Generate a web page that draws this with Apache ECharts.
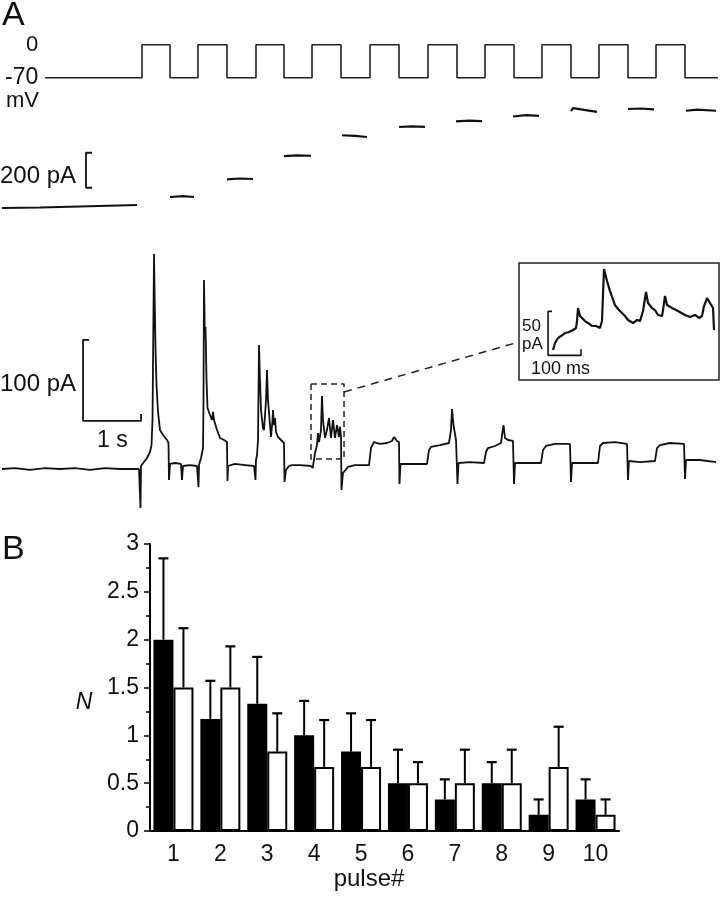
<!DOCTYPE html>
<html>
<head>
<meta charset="utf-8">
<script src="https://cdn.jsdelivr.net/npm/echarts@6/dist/echarts.min.js"></script>
<style>
html,body{margin:0;padding:0;background:#fff;}
#chart{width:721px;height:899px;}
</style>
</head>
<body>
<div id="chart"></div>
<script>
// ---------- Panel B data ----------
const pulses = ['1','2','3','4','5','6','7','8','9','10'];
const meanBlack = [2.0, 1.17, 1.33, 1.0, 0.83, 0.5, 0.33, 0.5, 0.17, 0.33];
const semBlack  = [0.85, 0.40, 0.49, 0.36, 0.40, 0.35, 0.21, 0.22, 0.16, 0.21];
const meanWhite = [1.5, 1.5, 0.83, 0.67, 0.67, 0.5, 0.5, 0.5, 0.67, 0.17];
const semWhite  = [0.62, 0.43, 0.40, 0.49, 0.49, 0.22, 0.35, 0.35, 0.42, 0.16];

// ---------- Panel A: voltage command (s, mV) ----------
const vStart = 0.741, vEnd = 12.345, vHold = -70, vStep = 0;
const pulseOn  = [2.414, 3.379, 4.379, 5.345, 6.345, 7.345, 8.328, 9.310, 10.293, 11.276];
const pulseOff = [2.897, 3.879, 4.862, 5.845, 6.845, 7.845, 8.828, 9.810, 10.793, 11.776];

// ---------- Panel A: holding current between pulses (s, pA) ----------
const holdT = [0, 0.655, 1.345, 2.328, null, 2.897, 3.121, 3.310, null, 3.879, 4.103, 4.328, null,
  4.862, 5.086, 5.328, null, 5.862, 6.086, 6.293, null, 6.845, 7.069, 7.293, null, 7.828, 8.052, 8.276, null,
  8.810, 9.034, 9.259, null, 9.810, 9.845, 10.259, null, 10.793, 11.017, 11.241, null, 11.793, 11.983, 12.310];
const holdI = [-5.7, -2.9, 2.9, 11.4, null, 57.0, 62.0, 57.0, null, 158.0, 163.0, 160.0, null,
  291.0, 295.0, 293.0, null, 410.0, 406.0, 400.0, null, 457.0, 461.0, 458.0, null, 489.0, 494.0, 491.0, null,
  517.0, 525.0, 521.0, null, 548.0, 565.0, 544.0, null, 560.0, 563.0, 558.0, null, 550.0, 556.0, 550.0];

// ---------- Panel A: evoked current trace (s, pA) ----------
const evT = [0.000,0.224,0.483,0.741,1.000,1.259,1.517,1.776,2.034,2.362,
  2.379,2.388,2.397,2.448,2.500,2.552,2.578,2.595,2.609,2.621,2.633,2.647,2.664,2.690,2.724,2.776,2.845,2.871,2.879,2.897,2.983,3.086,3.103,3.121,3.241,3.362,
  3.379,3.388,3.397,3.431,3.466,3.474,3.483,3.495,3.509,3.526,3.543,3.586,3.621,3.638,3.655,3.707,3.759,3.828,3.879,3.888,3.897,4.017,4.190,4.345,
  4.362,4.371,4.379,4.397,4.414,4.431,4.448,4.466,4.500,4.517,4.552,4.569,4.586,4.621,4.638,4.664,4.672,4.690,4.707,4.724,4.759,4.810,4.862,4.871,4.897,4.948,5.000,5.138,5.328,
  5.357,5.397,5.431,5.448,5.466,5.500,5.517,5.534,5.569,5.603,5.638,5.672,5.707,5.741,5.776,5.810,5.828,5.845,5.853,5.879,5.966,6.086,6.328,
  6.345,6.362,6.414,6.517,6.638,6.724,6.759,6.810,6.845,6.853,6.871,7.034,7.328,
  7.345,7.362,7.397,7.552,7.707,7.741,7.759,7.784,7.828,7.845,7.853,7.871,8.069,8.310,
  8.328,8.345,8.379,8.500,8.603,8.629,8.647,8.672,8.724,8.810,8.828,8.845,9.103,9.293,
  9.310,9.328,9.379,9.534,9.793,9.810,9.828,10.052,10.276,
  10.293,10.310,10.362,10.569,10.776,10.793,10.810,11.000,11.259,
  11.276,11.293,11.345,11.517,11.759,11.776,11.793,12.034,12.310];
const evI = [0.0,1.2,-1.2,1.2,0.0,1.2,-1.2,1.2,0.0,0.0,
  0.0,-48.1,3.7,8.6,13.6,21.0,29.6,60.5,171.6,265.4,207.4,146.9,103.7,70.4,48.1,42.0,35.8,32.1,-13.6,6.2,7.4,6.2,-13.6,3.7,4.9,3.7,
  3.7,-22.2,4.9,13.6,25.9,84.0,233.3,172.8,175.3,109.9,75.3,66.7,60.5,70.4,60.5,48.1,38.3,35.8,33.3,-14.8,3.7,6.2,4.9,3.7,
  2.5,-13.6,11.1,17.3,35.8,153.1,109.9,72.8,50.6,48.1,85.2,122.2,85.2,54.3,39.5,60.5,72.8,54.3,63.0,45.7,39.5,35.8,32.1,-16.0,-1.2,3.7,4.9,4.9,3.7,
  1.2,19.8,29.6,44.4,33.3,48.1,90.1,60.5,38.3,48.1,63.0,38.3,60.5,38.3,54.3,39.5,51.9,39.5,-25.9,-4.9,2.5,4.9,4.9,
  4.9,25.9,33.3,30.9,32.1,34.6,39.5,34.6,33.3,-18.5,6.2,6.2,6.2,
  6.2,23.5,27.2,29.6,32.1,48.1,74.1,54.3,35.8,34.6,-18.5,7.4,8.6,7.4,
  7.4,21.0,25.9,28.4,32.1,45.7,54.3,38.3,35.8,34.6,-18.5,7.4,7.4,7.4,
  7.4,23.5,28.4,30.9,30.9,-16.0,7.4,7.4,7.4,
  7.4,28.4,32.1,33.3,30.9,-13.6,9.9,8.6,9.9,
  9.9,25.9,29.6,32.1,30.9,-12.3,11.1,11.1,8.6];

// ---------- Inset trace (ms, pA) ----------
const insT = [103.0,109.1,118.2,127.3,139.4,151.5,163.6,172.7,175.8,178.8,184.8,200.0,209.1,221.2,233.3,245.5,251.5,254.5,257.6,266.7,275.8,290.9,300.0,312.1,321.2,330.3,345.5,357.6,366.7,375.8,384.8,390.9,403.0,412.1,421.2,433.3,436.4,442.4,448.5,463.6,481.8,503.0,518.2,533.3,545.5,554.5,560.6,569.7,578.8,587.9,590.9];
const insI = [34.1,42.0,47.7,50.0,53.4,54.5,56.8,59.1,67.0,81.8,72.7,67.0,64.8,61.4,61.4,59.1,67.0,96.6,126.1,112.5,101.1,85.2,80.7,76.1,72.7,68.2,64.8,68.2,67.0,78.4,100.0,87.5,81.8,79.5,73.9,72.7,79.5,95.5,85.2,81.8,78.4,73.9,71.6,73.9,70.5,72.7,84.1,93.2,87.5,81.8,56.8];

// ---------- Scale bars & annotation (data units) ----------
const bar200T = [1.552, 1.448, 1.448, 1.552], bar200I = [310, 310, 110, 110];
const bar100T = [1.500, 1.397, 1.397, 2.397, 2.397], bar100I = [159.3, 159.3, 59.3, 59.3, 67.9];
const insBarT = [100, 88, 88, 188, 188], insBarI = [78, 78, 28, 28, 35];
const boxT = [5.328, 5.897, 5.897, 5.328, 5.328], boxI = [104.9, 104.9, 12.3, 12.3, 104.9];
const linkT = [5.897, 8.914], linkI = [95.1, 156.8];

// ---------- build ----------
const pairs = (xs, ys) => xs.map((x, i) => (x === null ? ['-', '-'] : [x, ys[i]]));
const voltData = [[vStart, vHold]];
pulseOn.forEach((on, i) => {
  voltData.push([on, vHold], [on, vStep], [pulseOff[i], vStep], [pulseOff[i], vHold]);
});
voltData.push([vEnd, vHold]);

const FONT = 'Liberation Sans, Arial, Helvetica, sans-serif';
const INK = '#111';
const lineBase = (xi, yi, data, extra) => Object.assign({
  type: 'line', xAxisIndex: xi, yAxisIndex: yi, data,
  showSymbol: false, symbol: 'none', clip: false, animation: false, silent: true,
  lineStyle: { color: INK, width: 1.5 }
}, extra || {});

const BAR_W = 20;
const errSeries = (means, sems, offset) => ({
  type: 'custom', xAxisIndex: 4, yAxisIndex: 4, z: 5, animation: false, silent: true,
  data: means.map((m, i) => [i, m, sems[i]]),
  encode: { x: 0, y: 1 },
  renderItem: (params, api) => {
    const i = api.value(0), m = api.value(1), e = api.value(2);
    const b = api.coord([i, m]), t = api.coord([i, m + e]);
    const x = b[0] + offset;
    return { type: 'group', children: [
      { type: 'line', shape: { x1: x, y1: b[1], x2: x, y2: t[1] }, style: { stroke: '#000', lineWidth: 2 } },
      { type: 'line', shape: { x1: x - 5, y1: t[1], x2: x + 5, y2: t[1] }, style: { stroke: '#000', lineWidth: 2.2 } }
    ]};
  }
});

const txt = (text, x, y, size, align, extra) => ({
  type: 'text', x, y, silent: true,
  style: Object.assign({ text, fontSize: size, fontFamily: FONT, fill: INK, align: align || 'left', verticalAlign: 'middle' }, extra || {})
});

const option = {
  backgroundColor: '#fff',
  animation: false,
  grid: [
    { left: 2, top: 35.3, width: 716.3, height: 56.6 },
    { left: 2, top: 84.5, width: 716.3, height: 140 },
    { left: 2, top: 242.2, width: 716.3, height: 275.4 },
    { left: 519, top: 263, width: 200, height: 117, show: true, borderColor: '#222', borderWidth: 1.5, backgroundColor: 'transparent' },
    { left: 150, top: 544, width: 469, height: 287 }
  ],
  xAxis: [
    { type: 'value', gridIndex: 0, min: 0, max: 12.35, show: false },
    { type: 'value', gridIndex: 1, min: 0, max: 12.35, show: false },
    { type: 'value', gridIndex: 2, min: 0, max: 12.35, show: false },
    { type: 'value', gridIndex: 3, min: 0, max: 606, show: false },
    { type: 'category', gridIndex: 4, data: pulses,
      axisLine: { lineStyle: { color: '#000', width: 2 } },
      axisTick: { alignWithLabel: true, length: 5, lineStyle: { color: '#000', width: 2 } },
      axisLabel: { color: INK, fontSize: 23, fontFamily: FONT, margin: 12 } }
  ],
  yAxis: [
    { type: 'value', gridIndex: 0, min: -100, max: 20, show: false },
    { type: 'value', gridIndex: 1, min: -100, max: 700, show: false },
    { type: 'value', gridIndex: 2, min: -60, max: 280, show: false },
    { type: 'value', gridIndex: 3, min: 0, max: 133, show: false },
    { type: 'value', gridIndex: 4, min: 0, max: 3, interval: 0.5,
      splitLine: { show: false },
      axisLine: { show: true, lineStyle: { color: '#000', width: 2 } },
      axisTick: { show: true, length: 6, lineStyle: { color: '#000', width: 1.5 } },
      minorTick: { show: true, splitNumber: 2, length: 4, lineStyle: { color: '#000', width: 1.5 } },
      axisLabel: { color: INK, fontSize: 23, fontFamily: FONT, margin: 11 } }
  ],
  series: [
    lineBase(0, 0, voltData, { lineStyle: { color: '#222', width: 1.6 } }),
    lineBase(1, 1, pairs(holdT, holdI), { connectNulls: false, lineStyle: { color: INK, width: 2.2 } }),
    lineBase(1, 1, pairs(bar200T, bar200I), { lineStyle: { color: INK, width: 1.8 } }),
    lineBase(2, 2, pairs(evT, evI), { lineStyle: { color: INK, width: 1.8 } }),
    lineBase(2, 2, pairs(bar100T, bar100I), { lineStyle: { color: INK, width: 1.8 } }),
    lineBase(2, 2, pairs(boxT, boxI), { lineStyle: { color: '#222', width: 1.5, type: [6, 4] } }),
    lineBase(2, 2, pairs(linkT, linkI), { lineStyle: { color: '#222', width: 1.5, type: [8, 6] } }),
    lineBase(3, 3, pairs(insT, insI), { lineStyle: { color: INK, width: 2.2 } }),
    lineBase(3, 3, pairs(insBarT, insBarI), { lineStyle: { color: INK, width: 1.6 } }),
    { type: 'bar', xAxisIndex: 4, yAxisIndex: 4, data: meanBlack, barWidth: BAR_W, barGap: '0%',
      itemStyle: { color: '#000', borderColor: '#000', borderWidth: 1.5 }, silent: true },
    { type: 'bar', xAxisIndex: 4, yAxisIndex: 4, data: meanWhite, barWidth: BAR_W, barGap: '0%',
      itemStyle: { color: '#fff', borderColor: '#000', borderWidth: 2 }, silent: true },
    errSeries(meanBlack, semBlack, -BAR_W / 2),
    errSeries(meanWhite, semWhite, BAR_W / 2)
  ],
  graphic: [
    txt('A', 2, 16, 34),
    txt('0', 32, 45, 22, 'center'),
    txt('-70', 5, 78, 23),
    txt('mV', 6, 101, 22),
    txt('200 pA', 0, 176, 24),
    txt('100 pA', 0, 384, 24),
    txt('1 s', 97, 441, 23),
    txt('50', 522, 326, 17),
    txt('pA', 522, 344, 17),
    txt('100 ms', 531, 369, 18),
    txt('B', 2, 550, 34),
    txt('N', 84, 703, 23, 'center', { fontStyle: 'italic' }),
    txt('pulse#', 369, 879, 24, 'center')
  ]
};

const chart = echarts.init(document.getElementById('chart'), null, { renderer: 'canvas', width: 721, height: 899 });
chart.setOption(option);
</script>
</body>
</html>
